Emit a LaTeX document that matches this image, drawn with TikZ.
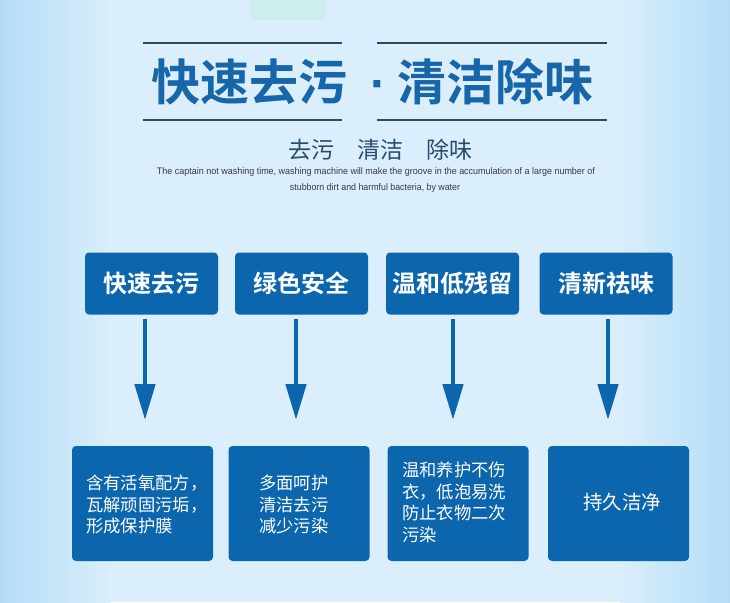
\documentclass[tikz,border=0pt]{standalone}
\usepackage{fontspec}
\usepackage{graphicx}
\setmainfont{Liberation Sans}
\newfontfamily\cjk{Noto Sans CJK SC}
\newfontfamily\cjkb{Noto Sans CJK SC Bold}
\newfontfamily\latb{Liberation Sans Bold}
\usetikzlibrary{arrows.meta}
\definecolor{boxblue}{HTML}{0B66AE}
\definecolor{titleblue}{HTML}{1766AA}
\definecolor{subblue}{HTML}{2B4B6E}
\definecolor{rulecol}{HTML}{2E4B5E}
\definecolor{bgmid}{HTML}{DAEEFB}
\definecolor{bgedge}{HTML}{B3DDF7}
\definecolor{engrey}{HTML}{3A3A3A}
\tikzset{
  topbox/.style={fill=boxblue, rounded corners=4pt, minimum width=133pt, minimum height=62pt,
    text=white, font=\cjkb\fontsize{24}{28}\selectfont, inner sep=0pt},
  botbox/.style={fill=boxblue, rounded corners=4pt, minimum width=141pt, minimum height=115pt, inner sep=0pt},
  bottext/.style={text=white, font=\cjk\fontsize{17.3}{21.5}\selectfont, align=left, inner sep=0pt},
  arr/.style={-{Triangle[width=20pt,length=36pt]}, line width=4.7pt, draw=boxblue, shorten <=4pt},
  titlerule/.style={draw=rulecol, line width=1.8pt},
  entext/.style={text=engrey, font=\fontsize{9.5}{11}\selectfont, inner sep=0pt}
}
\begin{document}
\begin{tikzpicture}[x=1pt,y=-1pt]
\useasboundingbox (0,0) rectangle (730,602);
% background
\fill[bgmid] (0,0) rectangle (730,602);
\shade[left color=bgedge, right color=bgmid] (0,0) rectangle (110,602);
\shade[left color=bgmid, right color=bgedge] (620,0) rectangle (730,602);
\fill[green!15!bgmid, opacity=0.35] (250,0) rectangle (326,20);

% title rules
\coordinate (r1a) at (143,43); \coordinate (r1b) at (342,43);
\coordinate (r2a) at (377,43); \coordinate (r2b) at (607,43);
\coordinate (r3a) at (143,120); \coordinate (r3b) at (342,120);
\coordinate (r4a) at (377,120); \coordinate (r4b) at (607,120);
\draw[titlerule] (r1a) -- (r1b);
\draw[titlerule] (r2a) -- (r2b);
\draw[titlerule] (r3a) -- (r3b);
\draw[titlerule] (r4a) -- (r4b);

% title
\node[text=titleblue, font=\cjkb\fontsize{49}{52}\selectfont, inner sep=0pt] (title) at (372.5,82)
  {快速去污\makebox[50pt]{\latb\hspace{12pt}·}清洁除味};
\node[text=subblue, font=\cjk\fontsize{23}{26}\selectfont, inner sep=0pt] (sub) at (380,150)
  {去污\hspace{23pt}清洁\hspace{23pt}除味};
\node[entext] (en1) at (376,172)
  {\resizebox{438pt}{\height}{The captain not washing time, washing machine will make the groove in the accumulation of a large number of}};
\node[entext] (en2) at (375,188)
  {\resizebox{170pt}{\height}{stubborn dirt and harmful bacteria, by water}};

% top boxes
\node[topbox] (t1) at (151.5,283.5) {快速去污};
\node[topbox] (t2) at (301.5,283.5) {绿色安全};
\node[topbox] (t3) at (452.5,283.5) {温和低残留};
\node[topbox] (t4) at (606,283.5) {清新祛味};

% bottom boxes
\node[botbox] (b1) at (142.5,503.5) {};
\node[botbox] (b2) at (299,503.5) {};
\node[botbox] (b3) at (458,503.5) {};
\node[botbox] (b4) at (618.5,503.5) {};

\node[bottext, anchor=west] (b1t) at (86,504.5) {含有活氧配方，\\瓦解顽固污垢，\\形成保护膜};
\node[bottext, anchor=west] (b2t) at (259,504.5) {多面呵护\\清洁去污\\减少污染};
\node[bottext, anchor=west] (b3t) at (402,502.5) {温和养护不伤\\衣，低泡易洗\\防止衣物二次\\污染};
\node[text=white, font=\cjk\fontsize{19.5}{22}\selectfont, inner sep=0pt] (b4t) at (622,502) {持久洁净};

% arrows
\coordinate (e1) at (145,420);
\coordinate (e2) at (296,420);
\coordinate (e3) at (453,420);
\coordinate (e4) at (608,420);
\draw[arr] (t1.south -| e1) -- (e1);
\draw[arr] (t2.south -| e2) -- (e2);
\draw[arr] (t3.south -| e3) -- (e3);
\draw[arr] (t4.south -| e4) -- (e4);
\end{tikzpicture}
\end{document}
